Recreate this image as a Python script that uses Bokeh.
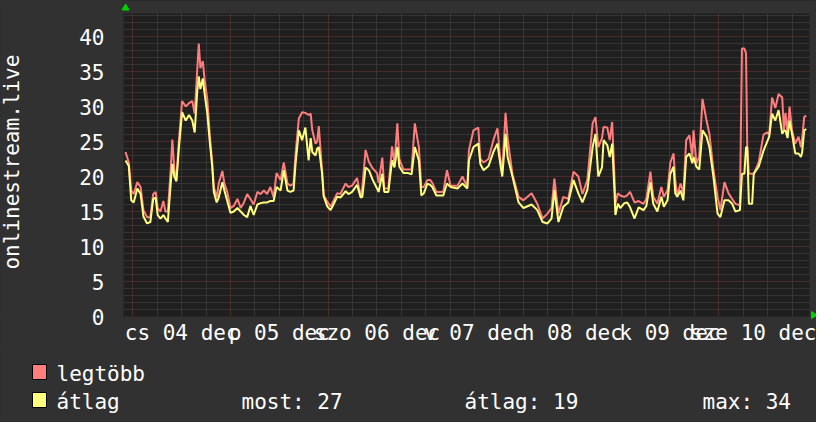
from math import pi
from bokeh.plotting import figure
from bokeh.layouts import column, row
from bokeh.models import Range1d, FixedTicker, BoxAnnotation
from bokeh.core.properties import value
from bokeh.embed import file_html
from bokeh.resources import INLINE

# hours since 2025-12-04 00:00
hours = [
    -1.8, -1.0, -0.4, 0.2, 1.1, 1.9, 2.6, 3.5, 4.3, 5.0, 5.6, 6.1, 6.8, 7.5, 8.0, 8.6,
    9.3, 9.7, 10.2, 10.7, 11.3, 12.1, 13.0, 13.8, 14.6, 15.2, 15.8, 16.2, 16.6, 17.2,
    17.6, 18.3, 18.9, 19.5, 19.9, 20.6, 21.1, 22.0, 22.5, 23.2, 24.0, 24.8, 25.7, 26.5,
    27.3, 28.1, 28.9, 29.7, 30.6, 31.4, 32.2, 33.0, 33.8, 34.6, 35.3, 36.3, 37.1, 38.0,
    38.7, 39.5, 40.0, 40.8, 41.6, 42.4, 43.2, 43.7, 44.1, 44.9, 45.3, 45.7, 46.5, 46.9,
    47.8, 48.6, 49.3, 50.2, 51.0, 52.3, 53.0, 53.9, 55.1, 56.0, 56.4, 57.2, 58.0, 58.9,
    60.0, 60.4, 61.3, 61.8, 62.8, 63.7, 64.3, 65.0, 65.5, 66.5, 67.7, 68.5, 69.3, 70.3,
    70.9, 71.5, 72.4, 73.1, 73.6, 74.6, 76.3, 77.2, 78.1, 79.8, 81.0, 82.2, 82.6, 83.7,
    84.9, 85.4, 86.2, 87.4, 88.6, 89.6, 90.3, 90.8, 91.6, 92.1, 93.3, 94.8, 96.0, 98.0,
    99.4, 100.7, 101.9, 102.9, 103.6, 104.6, 105.8, 107.0, 108.3, 109.5, 110.5, 111.7,
    113.0, 113.7, 114.4, 115.3, 115.7, 116.6, 117.2, 117.8, 118.4, 118.6, 119.2, 119.8,
    120.8, 121.5, 122.2, 123.3, 124.3, 125.5, 126.2, 127.2, 127.9, 128.9, 129.9, 130.5,
    131.4, 132.1, 132.9, 133.3, 133.8, 134.6, 135.3, 136.0, 136.8, 137.5, 137.8, 138.5,
    139.2, 140.0, 141.0, 141.7, 142.7, 143.7, 144.4, 145.4, 146.4, 147.3, 148.1, 149.2,
    149.7, 150.3, 150.7, 151.0, 151.4, 152.2, 152.6, 153.8, 155.0, 155.9, 156.4, 157.1,
    157.9, 158.7, 159.6, 160.0, 160.4, 160.9, 161.4, 162.0, 162.8, 163.6, 164.2, 164.5,
    165.0, 165.5,
]

legtobb = [
    23.5, 22.0, 18.0, 17.5, 19.2, 18.5, 15.2, 14.2, 14.2, 17.5, 17.8, 15.5, 15.0, 16.5, 15.0, 15.0,
    21.0, 25.3, 21.0, 19.5, 25.0, 30.8, 30.0, 30.5, 30.8, 29.0, 35.0, 39.0, 35.5, 36.5,
    34.0, 31.0, 26.0, 22.0, 18.5, 17.0, 19.0, 20.8, 19.0, 17.8, 15.5, 15.8, 16.8, 15.5,
    16.3, 17.5, 16.8, 16.0, 17.8, 17.5, 18.0, 17.5, 18.5, 17.0, 20.5, 19.5, 22.0, 19.0,
    18.7, 19.0, 23.3, 28.3, 29.2, 29.1, 28.8, 29.0, 26.6, 24.7, 25.0, 27.2, 20.9, 17.3,
    16.4, 15.7, 16.5, 17.6, 17.5, 19.0, 18.5, 18.7, 19.8, 17.1, 18.5, 23.8, 22.1, 21.2,
    20.5, 19.1, 22.7, 18.3, 18.3, 24.3, 21.8, 27.6, 22.5, 21.0, 21.0, 21.0, 27.6, 24.2,
    18.5, 18.5, 19.5, 19.5, 19.1, 17.8, 17.8, 20.9, 18.7, 18.7, 20.0, 18.5, 23.8, 26.6,
    27.0, 22.5, 22.0, 22.5, 25.2, 26.9, 22.5, 20.9, 29.1, 25.5, 20.3, 17.1, 16.6, 17.6,
    16.1, 14.0, 14.7, 15.5, 19.7, 14.7, 17.1, 16.8, 20.7, 20.0, 17.5, 19.5,
    27.6, 28.5, 24.2, 25.5, 27.1, 27.0, 25.2, 27.8, 19.5, 16.1, 17.6, 17.3,
    17.1, 17.3, 17.8, 16.3, 16.5, 16.1, 16.8, 20.7, 17.1, 16.1, 18.5, 17.1,
    18.0, 22.0, 23.3, 19.5, 17.3, 19.0, 17.6, 25.2, 25.9, 22.8, 26.6, 21.9,
    22.8, 31.1, 28.0, 26.1, 20.9, 17.1, 15.2, 19.2, 17.6, 16.8, 16.1, 15.9,
    38.3, 38.3, 37.6, 24.2, 20.4, 20.4, 20.4, 22.0, 26.0, 26.3, 26.0, 31.3,
    29.8, 31.8, 31.3, 26.6, 29.1, 26.1, 30.0, 26.6, 24.7, 25.7, 24.2, 25.5,
    28.5, 28.7,
]

atlag = [
    22.3, 21.5, 16.6, 16.3, 18.3, 17.5, 14.3, 13.3, 13.5, 16.8, 17.0, 14.5, 14.0, 14.5, 14.0, 13.5,
    19.0, 21.8, 20.0, 19.3, 24.0, 29.2, 28.0, 28.8, 28.0, 26.3, 32.0, 34.3, 32.5, 34.0,
    32.0, 29.0, 25.0, 21.5, 17.8, 16.3, 17.0, 19.2, 18.0, 16.5, 14.8, 15.0, 15.5, 15.0,
    14.5, 14.2, 15.8, 14.5, 16.0, 16.2, 16.3, 16.3, 16.5, 16.5, 18.5, 18.0, 20.9, 18.0,
    17.8, 18.0, 21.9, 26.6, 25.2, 27.0, 22.3, 25.5, 23.5, 23.0, 24.0, 24.2, 20.5, 17.2,
    15.7, 15.2, 16.0, 17.1, 17.0, 17.9, 17.5, 17.8, 18.8, 17.0, 17.1, 21.3, 20.9, 19.6,
    18.3, 17.8, 20.4, 17.8, 17.8, 22.3, 21.3, 24.2, 21.4, 20.5, 20.5, 20.3, 24.2, 22.3,
    17.3, 17.6, 19.0, 18.8, 18.5, 17.3, 17.3, 19.0, 18.5, 18.3, 19.0, 18.3, 22.3, 24.2,
    24.7, 21.8, 20.9, 21.5, 23.5, 24.7, 21.8, 20.0, 26.1, 22.8, 20.0, 16.3, 15.5, 16.0,
    15.2, 13.5, 13.3, 14.0, 18.1, 13.5, 15.7, 16.3, 19.5, 17.6, 16.3, 18.1,
    24.2, 26.1, 20.0, 21.3, 25.2, 24.5, 22.8, 24.7, 17.5, 14.5, 16.1, 15.5,
    16.2, 16.3, 15.6, 14.0, 15.6, 15.2, 15.8, 19.2, 16.1, 15.0, 17.1, 15.7,
    16.6, 20.4, 21.4, 17.6, 17.1, 18.0, 16.6, 22.8, 23.3, 21.9, 22.8, 21.4,
    21.0, 26.6, 25.7, 24.2, 19.9, 14.7, 14.2, 16.6, 16.6, 16.1, 15.0, 15.2,
    20.4, 20.4, 24.2, 24.2, 16.1, 16.1, 20.4, 21.4, 23.7, 25.0, 25.7, 29.0,
    28.0, 29.5, 26.1, 26.5, 26.6, 25.5, 28.0, 26.1, 23.3, 23.3, 22.8, 23.5,
    26.6, 26.8,
]

day_label_hours = [12, 36, 60, 84, 108, 132, 156]
day_labels = ["cs 04 dec", "p 05 dec", "szo 06 dec", "v 07 dec",
              "h 08 dec", "k 09 dec", "sze 10 dec"]
midnight_hours = [0, 24, 48, 72, 96, 120, 144]
six_hour_marks = [h for h in range(6, 166, 6) if h % 24 != 0]
y_major = [0, 5, 10, 15, 20, 25, 30, 35, 40]
y_minor = [v for v in range(1, 44) if v % 5 != 0]

series_names = ["legtöbb", "átlag"]
stats_texts = ["most: 27", "átlag: 19", "max: 34"]
axis_title = "onlinestream.live"

# visible window of the graph
t_start, t_end = -2.3, 166.3
v_max = 43.3

RED = "#ff7d7d"
YEL = "#ffff7d"
BACK = "#313131"
CANVAS = "#1f1f1f"
FONT = "DejaVu Sans Mono"
FS = "21px"
BG_STYLE = {"background-color": BACK}

TITLE_W = 30
TOP_H = 350

# ---------------- y-axis title column ----------------
pt = figure(width=TITLE_W, height=TOP_H, output_backend="svg", toolbar_location=None,
            x_range=Range1d(0, TITLE_W), y_range=Range1d(0, TOP_H),
            x_axis_type=None, y_axis_type=None, min_border=0,
            styles=BG_STYLE)
pt.border_fill_color = BACK
pt.background_fill_color = BACK
pt.outline_line_color = None
pt.grid.visible = False
pt.text(x=[11], y=[171], text=[axis_title], angle=pi / 2,
        text_align="center", text_baseline="alphabetic",
        text_font=value(FONT), text_font_size=FS, text_color="white")

# ---------------- main graph ----------------
px_per_h = 686 / (t_end - t_start)
px_per_v = 303 / v_max
x_right = t_end + 7 / px_per_h
y_top = v_max + 13 / px_per_v

p = figure(width=816 - TITLE_W, height=TOP_H, output_backend="svg", toolbar_location=None,
           x_range=Range1d(t_start, x_right), y_range=Range1d(0, y_top),
           min_border_left=123 - TITLE_W, min_border_right=0, min_border_top=0,
           min_border_bottom=TOP_H - 316, styles=BG_STYLE)
p.border_fill_color = BACK
p.background_fill_color = CANVAS
p.outline_line_color = None

xa = p.xaxis[0]
xa.ticker = FixedTicker(ticks=day_label_hours)
xa.major_label_overrides = {h: t for h, t in zip(day_label_hours, day_labels)}
xa.axis_line_color = None
xa.major_tick_line_color = None
xa.minor_tick_line_color = None
xa.major_tick_out = 0
xa.major_tick_in = 0
xa.major_label_standoff = 4
xa.major_label_text_font = FONT
xa.major_label_text_font_size = FS
xa.major_label_text_color = "white"

ya = p.yaxis[0]
ya.ticker = FixedTicker(ticks=y_major, minor_ticks=y_minor)
ya.axis_line_color = None
ya.major_tick_line_color = None
ya.minor_tick_line_color = None
ya.major_tick_out = 0
ya.major_tick_in = 0
ya.major_label_standoff = 15
ya.major_label_text_font = FONT
ya.major_label_text_font_size = FS
ya.major_label_text_color = "white"

p.ygrid.grid_line_color = "#723838"
p.ygrid.grid_line_dash = "1 1"
p.ygrid.minor_grid_line_color = "#4a4a4a"
p.ygrid.minor_grid_line_dash = "1 1"
p.xgrid.ticker = FixedTicker(ticks=midnight_hours, minor_ticks=six_hour_marks)
p.xgrid.grid_line_color = "#723838"
p.xgrid.grid_line_dash = "1 1"
p.xgrid.minor_grid_line_color = "#4a4a4a"
p.xgrid.minor_grid_line_dash = "1 1"

p.line(hours, legtobb, line_color=RED, line_width=2)
p.line(hours, atlag, line_color=YEL, line_width=2)

# strips above / right of the graph canvas painted with the page colour
p.add_layout(BoxAnnotation(bottom=v_max, fill_color=BACK, fill_alpha=1, line_alpha=0))
p.add_layout(BoxAnnotation(left=t_end, fill_color=BACK, fill_alpha=1, line_alpha=0))

# green axis arrows
p.scatter(x=[t_start + 2 / px_per_h], y=[v_max + 5.5 / px_per_v], marker="triangle",
          size=7, fill_color="#00d000", line_color="#00d000", level="overlay")
p.scatter(x=[t_end + 4 / px_per_h], y=[0.2], marker="triangle", angle=-pi / 2,
          size=7, fill_color="#00d000", line_color="#00d000", level="overlay")

# ---------------- legend strip ----------------
LEG_H = 422 - TOP_H
pl = figure(width=816, height=LEG_H, output_backend="svg", toolbar_location=None,
            x_range=Range1d(0, 816), y_range=Range1d(LEG_H, 0),
            x_axis_type=None, y_axis_type=None, min_border=0, styles=BG_STYLE)
pl.border_fill_color = BACK
pl.background_fill_color = BACK
pl.outline_line_color = None
pl.grid.visible = False

pl.quad(left=[32, 32], right=[46, 46], top=[14, 42], bottom=[29, 57],
        fill_color=[RED, YEL], line_color="black", line_width=1)
pl.text(x=[56, 56], y=[23, 51], text=series_names,
        text_font=value(FONT), text_font_size=FS, text_color="white",
        text_baseline="alphabetic")
pl.text(x=[241, 464, 702], y=[51, 51, 51], text=stats_texts,
        text_font=value(FONT), text_font_size=FS, text_color="white",
        text_baseline="alphabetic")

top_row = row(pt, p, spacing=0, styles=BG_STYLE)
layout = column(top_row, pl, spacing=0, styles=BG_STYLE)

open("out.html", "w").write(file_html(layout, INLINE))
